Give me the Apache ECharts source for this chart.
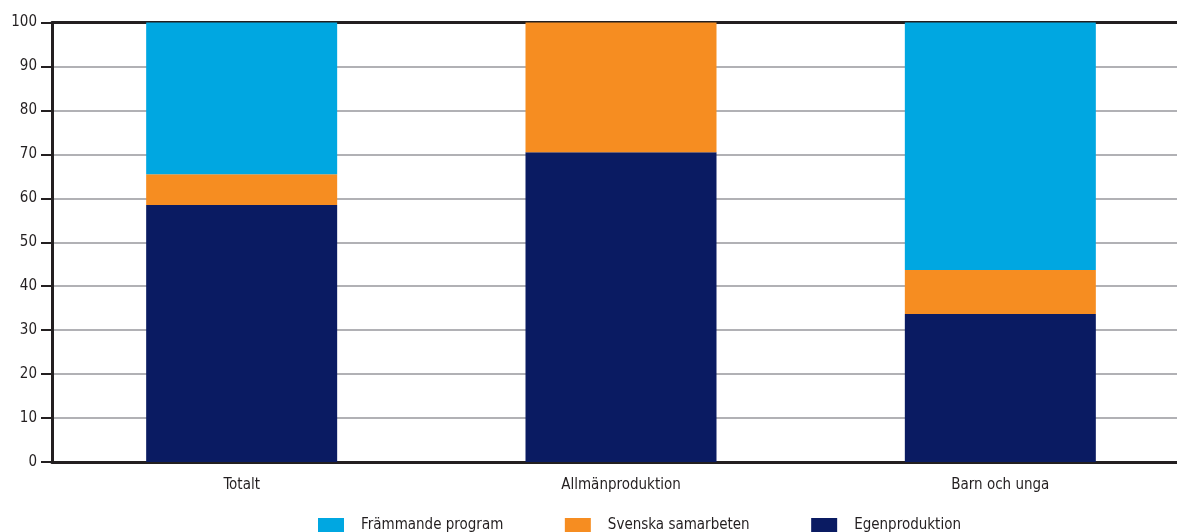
<!DOCTYPE html>
<html><head><meta charset="utf-8">
<script src="https://cdn.jsdelivr.net/npm/echarts@6/dist/echarts.min.js"></script>
<style>html,body{margin:0;padding:0;background:#fff}#c{width:1177px;height:532px}</style>
</head><body><div id="c"></div>
<script>
const categories = ['Totalt', 'Allmänproduktion', 'Barn och unga'];
const egenproduktion = [58.5, 70.5, 33.7];
const svenskaSamarbeten = [7.0, 29.5, 10.0];
const frammandeProgram = [34.5, 0, 56.3];
const yTicks = [0, 10, 20, 30, 40, 50, 60, 70, 80, 90, 100];

const font = "'Liberation Sans Narrow','DejaVu Sans Condensed',sans-serif";
const txt = '#231f20';
const chart = echarts.init(document.getElementById('c'));
chart.setOption({
  animation: false,
  textStyle: { fontFamily: font },
  grid: { left: 52, width: 1138, top: 22.5, height: 439.5, outerBoundsMode: 'none', containLabel: false },
  legend: {
    top: 518, left: 318, padding: 0, itemWidth: 26, itemHeight: 15, itemGap: 61.5, icon: 'rect',
    textStyle: { fontFamily: font, fontSize: 15, color: txt, padding: [0,0,0,12] },
    data: ['Främmande program', 'Svenska samarbeten', 'Egenproduktion']
  },
  xAxis: [{
    type: 'category', data: categories,
    axisLine: { lineStyle: { color: txt, width: 3 } },
    axisTick: { show: false },
    axisLabel: { color: txt, fontSize: 15, fontFamily: font, margin: 16 }
  }, {
    type: 'category', data: categories, position: 'top',
    axisLine: { lineStyle: { color: txt, width: 3 } },
    axisTick: { show: false }, axisLabel: { show: false }
  }],
  yAxis: {
    type: 'value', min: 0, max: 100, interval: 10,
    axisLine: { show: true, lineStyle: { color: txt, width: 3 } },
    axisTick: { show: true, length: 11, lineStyle: { color: txt, width: 2 } },
    axisLabel: { color: txt, fontSize: 15, fontFamily: font, margin: 15,
      formatter: v => yTicks.includes(v) ? String(v) : '' },
    splitLine: { lineStyle: { color: '#b1b1b5', width: 2 } }
  },
  series: [
    { name: 'Egenproduktion', type: 'bar', stack: 's', data: egenproduktion, barWidth: 191, itemStyle: { color: '#0a1b62' } },
    { name: 'Svenska samarbeten', type: 'bar', stack: 's', data: svenskaSamarbeten, barWidth: 191, itemStyle: { color: '#f68d21' } },
    { name: 'Främmande program', type: 'bar', stack: 's', data: frammandeProgram, barWidth: 191, itemStyle: { color: '#00a7e1' } }
  ]
});
</script></body></html>
